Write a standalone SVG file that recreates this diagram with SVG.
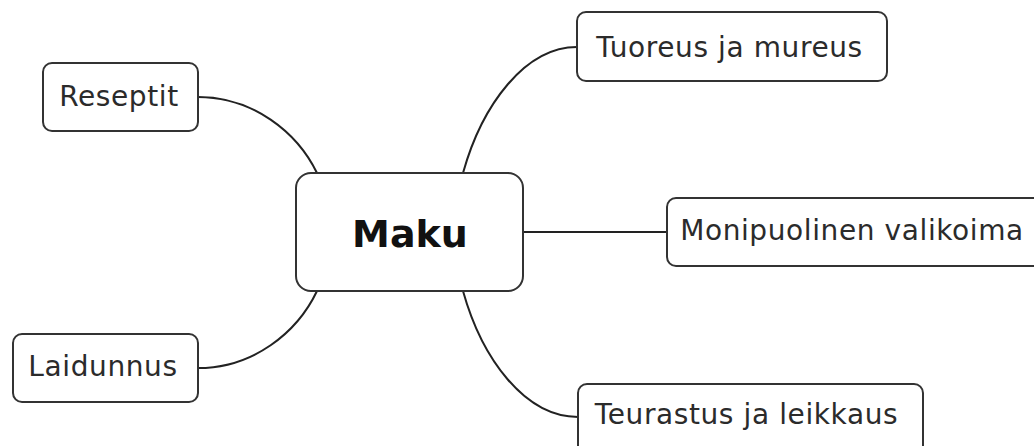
<svg xmlns="http://www.w3.org/2000/svg" width="1034" height="446" viewBox="0 0 1034 446">
  <style>
    .box { fill: #ffffff; stroke: #333333; stroke-width: 2; }
    .link { fill: none; stroke: #222222; stroke-width: 2; }
    .label { font-family: "DejaVu Sans", Verdana, sans-serif; font-size: 28px; letter-spacing: 0.6px; fill: #2b2b2b; text-anchor: middle; }
    .root { font-family: "DejaVu Sans", Verdana, sans-serif; font-size: 38px; font-weight: bold; fill: #111111; text-anchor: middle; }
  </style>
  <rect width="1034" height="446" fill="#ffffff"/>

  <!-- branches from the central topic -->
  <g id="connectors">
    <path class="link" d="M317,173 C297,132 253,97 198,97"/>
    <path class="link" d="M317,291 C297,333 253,368 198,368"/>
    <path class="link" d="M463,173 C482,105 525,47 577,47"/>
    <path class="link" d="M463,291 C482,359 525,417 578,417"/>
    <path class="link" d="M523,232 L667,232"/>
  </g>

  <g id="maku">
    <rect class="box" x="296" y="173" width="227" height="118" rx="15" ry="15"/>
    <text class="root" x="410" y="247">Maku</text>
  </g>

  <g id="reseptit">
    <rect class="box" x="43" y="63" width="155" height="68" rx="9" ry="9"/>
    <text class="label" x="119" y="106">Reseptit</text>
  </g>

  <g id="laidunnus">
    <rect class="box" x="13" y="334" width="185" height="68" rx="9" ry="9"/>
    <text class="label" x="103" y="376">Laidunnus</text>
  </g>

  <g id="tuoreus">
    <rect class="box" x="577" y="12" width="310" height="69" rx="9" ry="9"/>
    <text class="label" x="729.5" y="57">Tuoreus ja mureus</text>
  </g>

  <g id="valikoima">
    <rect class="box" x="667" y="198" width="390" height="68" rx="9" ry="9"/>
    <text class="label" x="852" y="240">Monipuolinen valikoima</text>
  </g>

  <g id="teurastus">
    <rect class="box" x="578" y="384" width="345" height="70" rx="9" ry="9"/>
    <text class="label" x="746.5" y="424">Teurastus ja leikkaus</text>
  </g>
</svg>
